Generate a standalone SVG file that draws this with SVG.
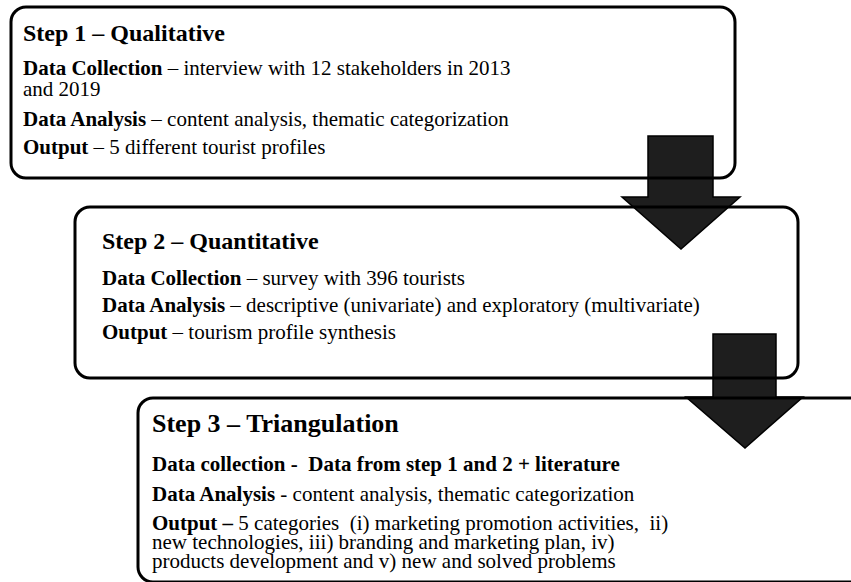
<svg xmlns="http://www.w3.org/2000/svg" width="851" height="582" viewBox="0 0 851 582">
<defs>
<style>
.box{fill:none;stroke:#000;stroke-width:3}
.arrow{fill:#1e1e1e;stroke:#000;stroke-width:1.5;stroke-linejoin:miter}
text{font-family:"Liberation Serif","Times New Roman",serif;fill:#000}
.title{font-weight:bold;font-size:24px}
.title3{font-weight:bold;font-size:26px}
.body{font-size:21px}
.b{font-weight:bold}
</style>
</defs>
<rect width="851" height="582" fill="#fff"/>
<g id="connectors">
<polygon class="arrow" points="648,136 713,136 713,197 740,197 681,249 622,197 648,197"/>
<polygon class="arrow" points="713,334 776,334 776,397 803,397 745,448 686,397 713,397"/>
</g>
<g id="step1">
<rect class="box" x="11" y="7" width="724" height="171" rx="15"/>
<text class="title" x="23" y="41">Step 1 – Qualitative</text>
<text class="body" x="23" y="75"><tspan class="b">Data Collection</tspan> – interview with 12 stakeholders in 2013</text>
<text class="body" x="23" y="96">and 2019</text>
<text class="body" x="23" y="126"><tspan class="b">Data Analysis</tspan> – content analysis, thematic categorization</text>
<text class="body" x="23" y="154"><tspan class="b">Output</tspan> – 5 different tourist profiles</text>
</g>
<g id="step2">
<rect class="box" x="75" y="207" width="723" height="171" rx="15"/>
<text class="title" x="102" y="249">Step 2 – Quantitative</text>
<text class="body" x="102" y="285"><tspan class="b">Data Collection</tspan> – survey with 396 tourists</text>
<text class="body" x="102" y="312"><tspan class="b">Data Analysis</tspan> – descriptive (univariate) and exploratory (multivariate)</text>
<text class="body" x="102" y="339"><tspan class="b">Output</tspan> – tourism profile synthesis</text>
</g>
<g id="step3">
<rect class="box" x="138" y="398" width="760" height="184" rx="15"/>
<text class="title3" x="152" y="432">Step 3 – Triangulation</text>
<text class="body b" x="152" y="471" xml:space="preserve">Data collection -  Data from step 1 and 2 + literature</text>
<text class="body" x="152" y="501"><tspan class="b">Data Analysis</tspan> - content analysis, thematic categorization</text>
<text class="body" x="152" y="530" xml:space="preserve"><tspan class="b">Output –</tspan> 5 categories  (i) marketing promotion activities,  ii)</text>
<text class="body" x="152" y="549">new technologies, iii) branding and marketing plan, iv)</text>
<text class="body" x="152" y="568">products development and v) new and solved problems</text>
</g>
</svg>
